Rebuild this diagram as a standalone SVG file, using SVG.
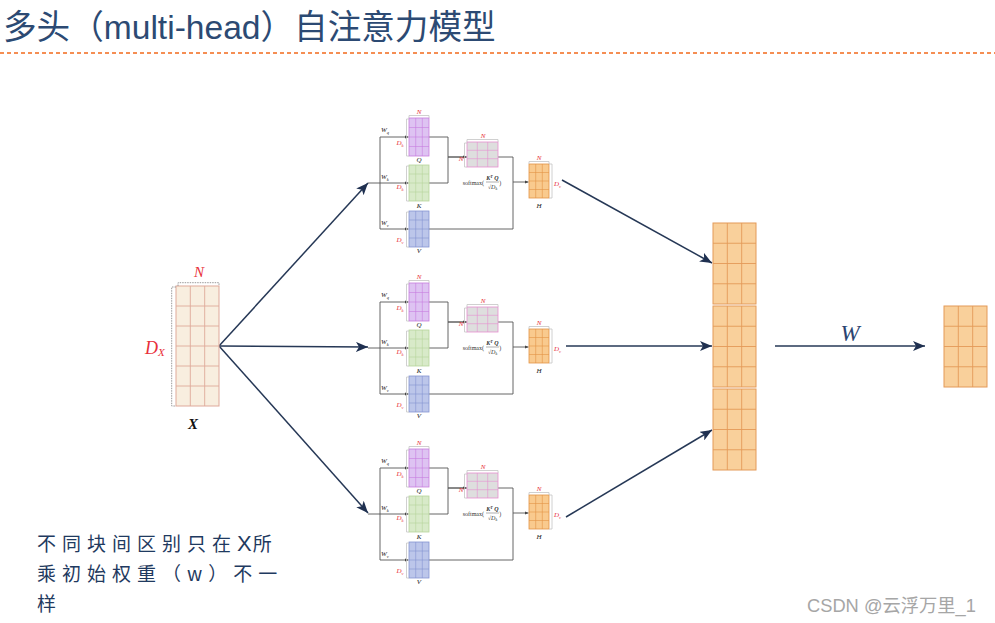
<svg xmlns="http://www.w3.org/2000/svg" width="995" height="623" viewBox="0 0 995 623">
<defs>
<style>
.main{stroke:#263856;stroke-width:1.5;fill:none}
.hw{stroke:#555;stroke-width:0.9;fill:none}
.br{stroke:#c4c4c4;stroke-width:0.8;fill:none}
.math{font-family:'Liberation Serif','DejaVu Serif',serif;font-style:italic}
.red{fill:#e8303a}
.lbl{font-size:7px;fill:#222}
.rl{font-size:7px}
.tiny{font-family:'Liberation Serif','DejaVu Serif',serif;font-size:6px;fill:#333}
.qf{fill:#dec3f2;stroke:#c77ddf;stroke-width:0.8}
.qg{stroke:#c77ddf;stroke-width:0.6;fill:none}
.kf{fill:#d8eac9;stroke:#b7d59c;stroke-width:0.8}
.kg{stroke:#b7d59c;stroke-width:0.6;fill:none}
.vf{fill:#bcc6ea;stroke:#8494d2;stroke-width:0.8}
.vg{stroke:#8494d2;stroke-width:0.6;fill:none}
.sf{fill:#dedede;stroke:#e68fd0;stroke-width:0.8}
.sg{stroke:#e68fd0;stroke-width:0.6;fill:none}
.hf{fill:#f9ca8e;stroke:#e39447;stroke-width:0.8}
.hg{stroke:#e39447;stroke-width:0.6;fill:none}
.of{fill:#f9d09b;stroke:#e39a58;stroke-width:1}
.og{stroke:#e39a58;stroke-width:0.9;fill:none}
.xf{fill:#f8eedf;stroke:#dfa99a;stroke-width:1}
.xg{stroke:#dfa99a;stroke-width:0.9;fill:none}
</style>
<marker id="ba" markerUnits="userSpaceOnUse" markerWidth="13" markerHeight="10" refX="12" refY="5" orient="auto">
<path d="M0,0 L12,5 L0,10 L3,5 z" fill="#1f3050"/>
</marker>
<marker id="sa" markerUnits="userSpaceOnUse" markerWidth="4" markerHeight="4" refX="4" refY="2" orient="auto">
<path d="M0,0.4 L4,2 L0,3.6 z" fill="#444"/>
</marker>
</defs>
<rect width="995" height="623" fill="#ffffff"/>

<g id="title">
<text x="3" y="39" font-size="33.6" fill="#2c4a73" font-family="'Liberation Sans','Noto Sans CJK SC',sans-serif">多头（multi-head）自注意力模型</text>
<line x1="0" y1="53" x2="995" y2="53" stroke="#f26a1b" stroke-width="1.5" stroke-dasharray="4 3"/>
</g>

<g id="connectors">
<path class="main" marker-end="url(#ba)" d="M219,346 L368,183"/>
<path class="main" marker-end="url(#ba)" d="M219,346 L368,347"/>
<path class="main" marker-end="url(#ba)" d="M219,346 L368,513"/>
<path class="main" marker-end="url(#ba)" d="M562,180 L712,263"/>
<path class="main" marker-end="url(#ba)" d="M566,346 L712,346"/>
<path class="main" marker-end="url(#ba)" d="M566,517 L712,430"/>
<path class="main" marker-end="url(#ba)" d="M775,346 L925,346"/>
<g id="wires1">
<path class="hw" d="M368,183 H380 M380,137 V229 M429,137 H448 V183 H429 M448,157 H467 M498,157 H513 V229 H429"/>
<path class="hw" marker-end="url(#sa)" d="M380,137 H408.5"/>
<path class="hw" marker-end="url(#sa)" d="M380,183 H408.5"/>
<path class="hw" marker-end="url(#sa)" d="M380,229 H408.5"/>
<path class="hw" marker-end="url(#sa)" d="M448,157 H466.5"/>
<path class="hw" marker-end="url(#sa)" d="M513,182 H528.5"/>
</g>
<g id="wires2" transform="translate(0,165)">
<path class="hw" d="M368,183 H380 M380,137 V229 M429,137 H448 V183 H429 M448,157 H467 M498,157 H513 V229 H429"/>
<path class="hw" marker-end="url(#sa)" d="M380,137 H408.5"/>
<path class="hw" marker-end="url(#sa)" d="M380,183 H408.5"/>
<path class="hw" marker-end="url(#sa)" d="M380,229 H408.5"/>
<path class="hw" marker-end="url(#sa)" d="M448,157 H466.5"/>
<path class="hw" marker-end="url(#sa)" d="M513,182 H528.5"/>
</g>
<g id="wires3" transform="translate(0,331)">
<path class="hw" d="M368,183 H380 M380,137 V229 M429,137 H448 V183 H429 M448,157 H467 M498,157 H513 V229 H429"/>
<path class="hw" marker-end="url(#sa)" d="M380,137 H408.5"/>
<path class="hw" marker-end="url(#sa)" d="M380,183 H408.5"/>
<path class="hw" marker-end="url(#sa)" d="M380,229 H408.5"/>
<path class="hw" marker-end="url(#sa)" d="M448,157 H466.5"/>
<path class="hw" marker-end="url(#sa)" d="M513,182 H528.5"/>
</g>
</g>

<g id="X">
<rect class="xf" x="176" y="286" width="43" height="120"/>
<path class="xg" d="M190.3,286 V406 M204.7,286 V406 M176,306 H219 M176,326 H219 M176,346 H219 M176,366 H219 M176,386 H219"/>
<path d="M178,286 V282.7 H219 V286 M176,287 H171.7 V406 H176" fill="none" stroke="#9a9a9a" stroke-width="1" stroke-dasharray="1.5 1"/>
<text class="math red" x="199" y="277" font-size="15" text-anchor="middle">N</text>
<text class="math red" x="145" y="354" font-size="18">D<tspan font-size="11" dy="2">X</tspan></text>
<text class="math" x="193" y="429" font-size="15" font-weight="bold" text-anchor="middle" fill="#111">X</text>
</g>

<g id="head1">
<g id="Q1">
<rect class="qf" x="409" y="118" width="20" height="38"/>
<path class="qg" d="M415.7,118 V156 M422.3,118 V156 M409,127.5 H429 M409,137 H429 M409,146.5 H429"/>
<path class="br" d="M409,118 V115.5 H429 V118 M409,119 H406.5 V156 H409"/>
<text class="math red rl" x="419" y="113.5" text-anchor="middle">N</text>
<text class="math red rl" x="396.5" y="145">D<tspan font-size="4.5" dy="1.5">k</tspan></text>
<text class="math lbl" x="419" y="162" text-anchor="middle">Q</text>
<text class="math lbl" x="381" y="132">W<tspan font-size="4.5" dy="1.5">q</tspan></text>
</g>
<g id="K1">
<rect class="kf" x="409" y="165" width="20" height="36"/>
<path class="kg" d="M415.7,165 V201 M422.3,165 V201 M409,174 H429 M409,183 H429 M409,192 H429"/>
<path class="br" d="M409,166 H406.5 V201 H409"/>
<text class="math red rl" x="396.5" y="189">D<tspan font-size="4.5" dy="1.5">k</tspan></text>
<text class="math lbl" x="419" y="208" text-anchor="middle">K</text>
<text class="math lbl" x="381" y="179">W<tspan font-size="4.5" dy="1.5">k</tspan></text>
</g>
<g id="V1">
<rect class="vf" x="409" y="211" width="20" height="36"/>
<path class="vg" d="M415.7,211 V247 M422.3,211 V247 M409,220 H429 M409,229 H429 M409,238 H429"/>
<path class="br" d="M409,212 H406.5 V247 H409"/>
<text class="math red rl" x="396.5" y="242">D<tspan font-size="4.5" dy="1.5">v</tspan></text>
<text class="math lbl" x="419" y="253" text-anchor="middle">V</text>
<text class="math lbl" x="381" y="225">W<tspan font-size="4.5" dy="1.5">v</tspan></text>
</g>
<g id="S1">
<rect class="sf" x="467" y="142" width="31" height="25"/>
<path class="sg" d="M477.3,142 V167 M487.7,142 V167 M467,150.3 H498 M467,158.7 H498"/>
<path class="br" d="M467,142 V139.5 H498 V142 M467,143 H464.5 V167 H467"/>
<text class="math red rl" x="483" y="137.5" text-anchor="middle">N</text>
<text class="math red rl" x="461" y="161" text-anchor="middle">N</text>
<text class="tiny" x="484" y="185" text-anchor="end">softmax(</text>
<text class="tiny" x="492.5" y="180" text-anchor="middle" font-style="italic" font-weight="bold">K<tspan font-size="4" dy="-2">T</tspan><tspan dy="2"> Q</tspan></text>
<line x1="486" y1="182" x2="499" y2="182" stroke="#333" stroke-width="0.4"/>
<text class="tiny" x="492.5" y="189" text-anchor="middle">√<tspan font-style="italic">D</tspan><tspan font-size="4" dy="1" font-style="italic">k</tspan></text>
<text class="tiny" x="499.3" y="185">)</text>
</g>
<g id="H1">
<rect class="hf" x="529" y="164" width="20" height="34"/>
<path class="hg" d="M535.7,164 V198 M542.3,164 V198 M529,172.5 H549 M529,181 H549 M529,189.5 H549"/>
<path class="br" d="M529,164 V161.5 H549 V164 M549,164 H552 V198 H549"/>
<text class="math red rl" x="539" y="159.5" text-anchor="middle">N</text>
<text class="math red rl" x="554" y="186">D<tspan font-size="4.5" dy="1.5">v</tspan></text>
<text class="math lbl" x="539" y="208" text-anchor="middle">H</text>
</g>
</g>

<g id="head2" transform="translate(0,165)">
<g id="Q2">
<rect class="qf" x="409" y="118" width="20" height="38"/>
<path class="qg" d="M415.7,118 V156 M422.3,118 V156 M409,127.5 H429 M409,137 H429 M409,146.5 H429"/>
<path class="br" d="M409,118 V115.5 H429 V118 M409,119 H406.5 V156 H409"/>
<text class="math red rl" x="419" y="113.5" text-anchor="middle">N</text>
<text class="math red rl" x="396.5" y="145">D<tspan font-size="4.5" dy="1.5">k</tspan></text>
<text class="math lbl" x="419" y="162" text-anchor="middle">Q</text>
<text class="math lbl" x="381" y="132">W<tspan font-size="4.5" dy="1.5">q</tspan></text>
</g>
<g id="K2">
<rect class="kf" x="409" y="165" width="20" height="36"/>
<path class="kg" d="M415.7,165 V201 M422.3,165 V201 M409,174 H429 M409,183 H429 M409,192 H429"/>
<path class="br" d="M409,166 H406.5 V201 H409"/>
<text class="math red rl" x="396.5" y="189">D<tspan font-size="4.5" dy="1.5">k</tspan></text>
<text class="math lbl" x="419" y="208" text-anchor="middle">K</text>
<text class="math lbl" x="381" y="179">W<tspan font-size="4.5" dy="1.5">k</tspan></text>
</g>
<g id="V2">
<rect class="vf" x="409" y="211" width="20" height="36"/>
<path class="vg" d="M415.7,211 V247 M422.3,211 V247 M409,220 H429 M409,229 H429 M409,238 H429"/>
<path class="br" d="M409,212 H406.5 V247 H409"/>
<text class="math red rl" x="396.5" y="242">D<tspan font-size="4.5" dy="1.5">v</tspan></text>
<text class="math lbl" x="419" y="253" text-anchor="middle">V</text>
<text class="math lbl" x="381" y="225">W<tspan font-size="4.5" dy="1.5">v</tspan></text>
</g>
<g id="S2">
<rect class="sf" x="467" y="142" width="31" height="25"/>
<path class="sg" d="M477.3,142 V167 M487.7,142 V167 M467,150.3 H498 M467,158.7 H498"/>
<path class="br" d="M467,142 V139.5 H498 V142 M467,143 H464.5 V167 H467"/>
<text class="math red rl" x="483" y="137.5" text-anchor="middle">N</text>
<text class="math red rl" x="461" y="161" text-anchor="middle">N</text>
<text class="tiny" x="484" y="185" text-anchor="end">softmax(</text>
<text class="tiny" x="492.5" y="180" text-anchor="middle" font-style="italic" font-weight="bold">K<tspan font-size="4" dy="-2">T</tspan><tspan dy="2"> Q</tspan></text>
<line x1="486" y1="182" x2="499" y2="182" stroke="#333" stroke-width="0.4"/>
<text class="tiny" x="492.5" y="189" text-anchor="middle">√<tspan font-style="italic">D</tspan><tspan font-size="4" dy="1" font-style="italic">k</tspan></text>
<text class="tiny" x="499.3" y="185">)</text>
</g>
<g id="H2">
<rect class="hf" x="529" y="164" width="20" height="34"/>
<path class="hg" d="M535.7,164 V198 M542.3,164 V198 M529,172.5 H549 M529,181 H549 M529,189.5 H549"/>
<path class="br" d="M529,164 V161.5 H549 V164 M549,164 H552 V198 H549"/>
<text class="math red rl" x="539" y="159.5" text-anchor="middle">N</text>
<text class="math red rl" x="554" y="186">D<tspan font-size="4.5" dy="1.5">v</tspan></text>
<text class="math lbl" x="539" y="208" text-anchor="middle">H</text>
</g>
</g>

<g id="head3" transform="translate(0,331)">
<g id="Q3">
<rect class="qf" x="409" y="118" width="20" height="38"/>
<path class="qg" d="M415.7,118 V156 M422.3,118 V156 M409,127.5 H429 M409,137 H429 M409,146.5 H429"/>
<path class="br" d="M409,118 V115.5 H429 V118 M409,119 H406.5 V156 H409"/>
<text class="math red rl" x="419" y="113.5" text-anchor="middle">N</text>
<text class="math red rl" x="396.5" y="145">D<tspan font-size="4.5" dy="1.5">k</tspan></text>
<text class="math lbl" x="419" y="162" text-anchor="middle">Q</text>
<text class="math lbl" x="381" y="132">W<tspan font-size="4.5" dy="1.5">q</tspan></text>
</g>
<g id="K3">
<rect class="kf" x="409" y="165" width="20" height="36"/>
<path class="kg" d="M415.7,165 V201 M422.3,165 V201 M409,174 H429 M409,183 H429 M409,192 H429"/>
<path class="br" d="M409,166 H406.5 V201 H409"/>
<text class="math red rl" x="396.5" y="189">D<tspan font-size="4.5" dy="1.5">k</tspan></text>
<text class="math lbl" x="419" y="208" text-anchor="middle">K</text>
<text class="math lbl" x="381" y="179">W<tspan font-size="4.5" dy="1.5">k</tspan></text>
</g>
<g id="V3">
<rect class="vf" x="409" y="211" width="20" height="36"/>
<path class="vg" d="M415.7,211 V247 M422.3,211 V247 M409,220 H429 M409,229 H429 M409,238 H429"/>
<path class="br" d="M409,212 H406.5 V247 H409"/>
<text class="math red rl" x="396.5" y="242">D<tspan font-size="4.5" dy="1.5">v</tspan></text>
<text class="math lbl" x="419" y="253" text-anchor="middle">V</text>
<text class="math lbl" x="381" y="225">W<tspan font-size="4.5" dy="1.5">v</tspan></text>
</g>
<g id="S3">
<rect class="sf" x="467" y="142" width="31" height="25"/>
<path class="sg" d="M477.3,142 V167 M487.7,142 V167 M467,150.3 H498 M467,158.7 H498"/>
<path class="br" d="M467,142 V139.5 H498 V142 M467,143 H464.5 V167 H467"/>
<text class="math red rl" x="483" y="137.5" text-anchor="middle">N</text>
<text class="math red rl" x="461" y="161" text-anchor="middle">N</text>
<text class="tiny" x="484" y="185" text-anchor="end">softmax(</text>
<text class="tiny" x="492.5" y="180" text-anchor="middle" font-style="italic" font-weight="bold">K<tspan font-size="4" dy="-2">T</tspan><tspan dy="2"> Q</tspan></text>
<line x1="486" y1="182" x2="499" y2="182" stroke="#333" stroke-width="0.4"/>
<text class="tiny" x="492.5" y="189" text-anchor="middle">√<tspan font-style="italic">D</tspan><tspan font-size="4" dy="1" font-style="italic">k</tspan></text>
<text class="tiny" x="499.3" y="185">)</text>
</g>
<g id="H3">
<rect class="hf" x="529" y="164" width="20" height="34"/>
<path class="hg" d="M535.7,164 V198 M542.3,164 V198 M529,172.5 H549 M529,181 H549 M529,189.5 H549"/>
<path class="br" d="M529,164 V161.5 H549 V164 M549,164 H552 V198 H549"/>
<text class="math red rl" x="539" y="159.5" text-anchor="middle">N</text>
<text class="math red rl" x="554" y="186">D<tspan font-size="4.5" dy="1.5">v</tspan></text>
<text class="math lbl" x="539" y="208" text-anchor="middle">H</text>
</g>
</g>

<g id="concat">
<rect class="of" x="713" y="223" width="43" height="81"/>
<path class="og" d="M727.3,223 V304 M741.7,223 V304 M713,243.25 H756 M713,263.5 H756 M713,283.75 H756"/>
<rect class="of" x="713" y="306" width="43" height="81"/>
<path class="og" d="M727.3,306 V387 M741.7,306 V387 M713,326.25 H756 M713,346.5 H756 M713,366.75 H756"/>
<rect class="of" x="713" y="389" width="43" height="81"/>
<path class="og" d="M727.3,389 V470 M741.7,389 V470 M713,409.25 H756 M713,429.5 H756 M713,449.75 H756"/>
</g>

<g id="W-label">
<text class="math" x="850" y="341" font-size="23" text-anchor="middle" fill="#2b4470">W</text>
</g>

<g id="output">
<rect class="of" x="944" y="306" width="43" height="81"/>
<path class="og" d="M958.3,306 V387 M972.7,306 V387 M944,326.25 H987 M944,346.5 H987 M944,366.75 H987"/>
</g>

<g id="note" font-family="'Noto Sans CJK SC',sans-serif" font-size="19" fill="#1f3a60" letter-spacing="6">
<text x="37" y="551">不同块间区别只在<tspan font-family="'Liberation Sans',sans-serif" font-size="22" letter-spacing="1">X</tspan>所</text>
<text x="37" y="581">乘初始权重（w）不一</text>
<text x="37" y="611">样</text>
</g>

<g id="watermark">
<text x="807" y="611.5" font-size="18.3" fill="#a6a6a6" font-family="'Liberation Sans','Noto Sans CJK SC',sans-serif">CSDN @云浮万里_1</text>
</g>
</svg>
